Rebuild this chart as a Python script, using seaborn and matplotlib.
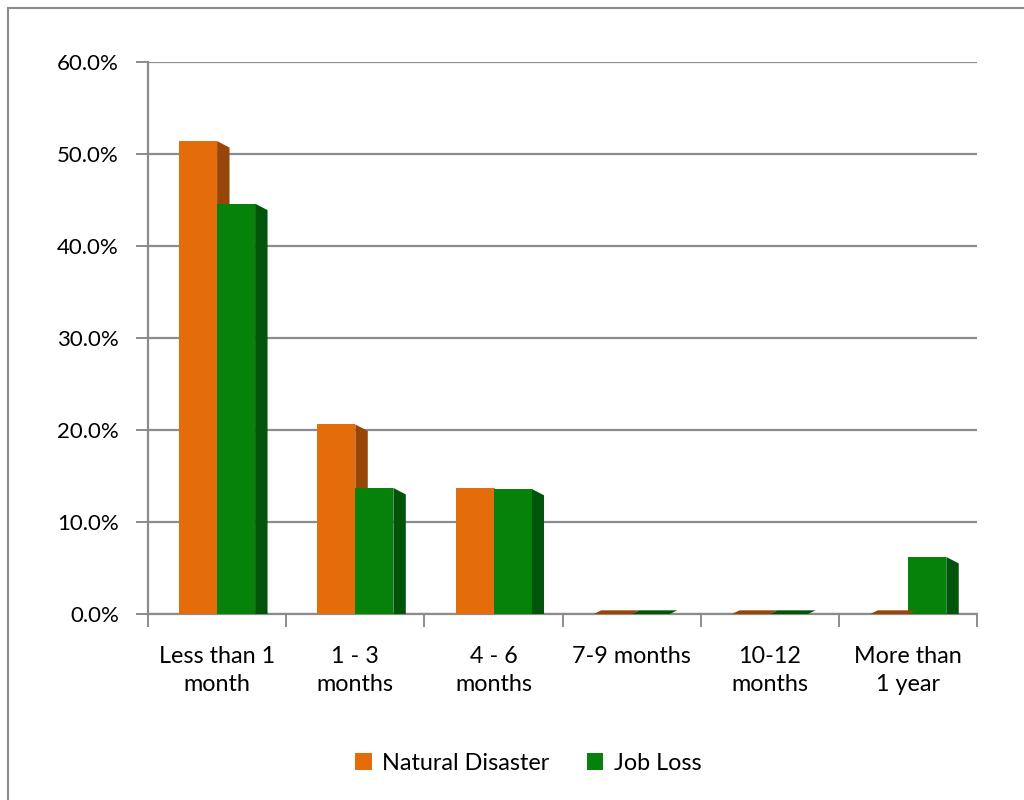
import matplotlib
matplotlib.use("Agg")
import matplotlib.pyplot as plt
import matplotlib.patches as mpatches
from matplotlib.ticker import PercentFormatter, FixedLocator
import numpy as np
import pandas as pd
import seaborn as sns

# Data
categories = ["Less than 1\nmonth", "1 - 3\nmonths", "4 - 6\nmonths",
              "7-9 months", "10-12\nmonths", "More than\n1 year"]
natural_disaster = [0.514, 0.206, 0.137, 0.0, 0.0, 0.0]
job_loss = [0.446, 0.137, 0.136, 0.0, 0.0, 0.062]
series_names = ["Natural Disaster", "Job Loss"]
y_ticks = [0.0, 0.1, 0.2, 0.3, 0.4, 0.5, 0.6]

face_colors = ["#E46C0A", "#06820A"]
side_colors = ["#97460A", "#00550A"]

df = pd.DataFrame({
    "category": categories * 2,
    "share": natural_disaster + job_loss,
    "series": [series_names[0]] * len(categories) + [series_names[1]] * len(categories),
})

sns.set_theme(style="white")
plt.rcParams["font.family"] = ["Lato", "DejaVu Sans"]
plt.rcParams["text.color"] = "black"

FS = 16

fig = plt.figure(figsize=(10.24, 8.0), dpi=100)
ax = fig.add_axes([0.1445, 0.2325, 0.81, 0.69])

sns.barplot(data=df, x="category", y="share", hue="series",
            palette=face_colors, width=0.55, saturation=1.0,
            edgecolor="none", linewidth=0, ax=ax, legend=True, zorder=3)

ax.set_ylim(0, 0.6)
ax.set_xlim(-0.5, len(categories) - 0.5)

# pseudo-3D side faces derived from each bar's geometry
depth_x = 0.09
depth_y = 0.007
for container, side in zip(ax.containers, side_colors):
    for bar in container:
        x0 = bar.get_x()
        w = bar.get_width()
        h = bar.get_height()
        x1 = x0 + w
        if h > 0:
            poly = mpatches.Polygon(
                [(x1, 0), (x1, h), (x1 + depth_x, h - depth_y), (x1 + depth_x, 0.0)],
                closed=True, facecolor=side, edgecolor="none", zorder=2.9)
            ax.add_patch(poly)
        else:
            slab = mpatches.Polygon(
                [(x0, 0.0), (x1, 0.0), (x1 + depth_x * 0.6, 0.004), (x0 + depth_x * 0.6, 0.004)],
                closed=True, facecolor=side, edgecolor="none", zorder=3, clip_on=False)
            ax.add_patch(slab)

# grid and axes styling
ax.yaxis.set_major_locator(FixedLocator(y_ticks))
ax.yaxis.set_major_formatter(PercentFormatter(1.0, decimals=1))
ax.grid(axis="y", color="#8C8C8C", linewidth=1.6, zorder=0)
for side_name in ["top", "right"]:
    ax.spines[side_name].set_visible(False)
ax.spines["left"].set_color("#8C8C8C")
ax.spines["left"].set_linewidth(1.6)
ax.spines["bottom"].set_color("#8C8C8C")
ax.spines["bottom"].set_linewidth(1.6)

ax.tick_params(axis="y", which="major", direction="out", length=9, width=1.4,
               color="#8C8C8C", labelsize=FS, labelcolor="black", left=True, pad=12)
ax.tick_params(axis="x", which="major", length=0, labelsize=FS + 0.8, labelcolor="black", pad=23)
ax.set_xticks(range(len(categories)))
ax.set_xticklabels(categories, linespacing=1.4)
ax.set_xticks(np.arange(-0.5, len(categories), 1.0), minor=True)
ax.tick_params(axis="x", which="minor", direction="out", length=9, width=1.4,
               color="#8C8C8C", bottom=True)
ax.set_xlabel("")
ax.set_ylabel("")

# legend below the plot
handles, labels = ax.get_legend_handles_labels()
ax.legend_.remove()
leg = fig.legend(handles, labels, loc="center", bbox_to_anchor=(0.516, 0.046), ncol=2,
                 frameon=False, fontsize=FS + 0.8, handlelength=0.7, handleheight=0.7,
                 handletextpad=0.45, columnspacing=1.6)
for t in leg.get_texts():
    t.set_color("black")

# chart area border
fig.patches.append(mpatches.Rectangle((8 / 1024, -0.05), 1.2, 1 - 8 / 800 + 0.05,
                                      transform=fig.transFigure, fill=False,
                                      edgecolor="#8C8C8C", linewidth=1.5))

fig.savefig("out.png", dpi=100)
